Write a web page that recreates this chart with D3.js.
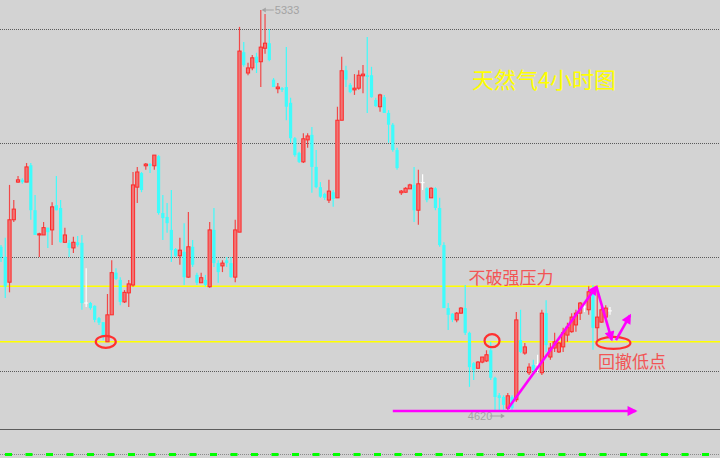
<!DOCTYPE html>
<html>
<head>
<meta charset="utf-8">
<script src="https://cdn.jsdelivr.net/npm/d3@7/dist/d3.min.js"></script>
<style>
  html, body { margin: 0; padding: 0; background: #d3d3d3; }
  svg { display: block; }
</style>
</head>
<body>
<div id="chart"></div>
<script>
// 4h candles, left to right
const opens = [
  4912,4894,4849,4960,5027,5031,5027,5057,4977,4933,
  4933,4946,4942,4986,4981,4920,4919,4910,4920,4919,
  4812,4812,4807,4785,4778,4743,4791,4866,4853,4814,
  4830,4844,5018,5043,5056,5059,5056,5073,4972,4965,
  4942,4908,4896,4903,4858,4912,4862,4848,4853,4841,
  4942,4883,4878,4888,4883,4858,4938,5258,5221,5230,
  5250,5241,5265,5274,5209,5193,5194,5196,5168,5105,
  5079,5063,5102,5111,5054,5018,5006,4995,5009,4999,
  5137,5226,5200,5191,5194,5216,5217,5217,5173,5161,
  5178,5150,5129,5084,5008,5009,5015,5022,4977,5026,
  5016,4999,5016,4981,4915,4803,4793,4782,4794,4803,
  4759,4705,4696,4707,4709,4728,4679,4648,4645,4625,
  4645,4640,4746,4723,4688,4702,4702,4688,4794,4716,
  4732,4725,4734,4755,4761,4773,4794,4805,4800,4835,
  4768,4778,4787,4798
];
const highs = [
  4915,4928,5022,4995,5038,5034,5061,5061,5004,4937,
  4956,4946,4991,5038,4995,4946,4924,4930,4931,4933,
  4874,4814,4808,4787,4778,4828,4888,4874,4858,4835,
  4853,5045,5054,5045,5061,5061,5075,5075,5004,4990,
  5013,4910,4928,4954,4974,4924,4866,4866,4862,4956,
  4981,4888,4888,4894,4894,4960,5303,5276,5239,5253,
  5257,5333,5326,5299,5212,5203,5196,5267,5177,5107,
  5081,5114,5114,5125,5084,5027,5008,5031,5013,5161,
  5250,5234,5203,5219,5226,5235,5285,5232,5177,5184,
  5182,5155,5132,5088,5013,5018,5024,5054,5049,5041,
  5018,5018,5018,4999,4920,4812,4794,4796,4805,4844,
  4761,4707,4709,4716,4728,4743,4681,4652,4648,4652,
  4648,4796,4800,4741,4705,4711,4720,4800,4817,4741,
  4759,4743,4768,4777,4794,4800,4814,4812,4842,4844,
  4841,4805,4808,4805
];
const lows = [
  4885,4821,4831,4956,5026,5024,5027,4960,4933,4894,
  4933,4910,4915,4977,4919,4919,4894,4901,4912,4800,
  4805,4800,4778,4773,4746,4743,4791,4853,4808,4812,
  4805,4841,4990,5009,5049,5043,5049,4969,4924,4937,
  4885,4894,4880,4844,4857,4876,4844,4848,4841,4839,
  4876,4848,4867,4876,4857,4849,4938,5232,5217,5226,
  5221,5196,5255,5242,5196,5185,5187,5137,5097,5072,
  5061,5061,5088,5008,5016,4999,4995,4990,4983,4999,
  5137,5196,5185,5182,5191,5185,5150,5177,5161,5152,
  5150,5097,5081,5049,5004,5008,5015,4956,4951,5013,
  4991,4999,4977,4912,4803,4764,4778,4778,4793,4755,
  4663,4675,4695,4705,4707,4675,4622,4622,4622,4620,
  4622,4636,4723,4720,4684,4684,4688,4684,4725,4711,
  4725,4723,4725,4743,4759,4761,4782,4796,4791,4729,
  4746,4777,4782,4791
];
const closes = [
  4894,4841,4960,4979,5031,5027,5054,4977,4933,4935,
  4946,4938,4983,4977,4920,4933,4910,4920,4915,4812,
  4812,4803,4782,4777,4752,4791,4866,4855,4814,4831,
  4846,5022,5045,5013,5059,5056,5075,4972,4963,4954,
  4906,4896,4906,4858,4912,4880,4848,4857,4844,4942,
  4883,4867,4883,4883,4858,4942,5260,5235,5230,5248,
  5239,5267,5274,5244,5196,5196,5191,5161,5105,5075,
  5063,5104,5109,5054,5018,5001,4999,5011,4997,5137,
  5225,5209,5187,5194,5217,5219,5214,5178,5162,5182,
  5150,5129,5084,5052,5011,5016,5022,4977,5024,5026,
  4995,5016,4981,4915,4803,4791,4782,4794,4803,4759,
  4698,4693,4707,4716,4720,4679,4645,4643,4631,4647,
  4625,4782,4725,4734,4698,4693,4702,4794,4737,4732,
  4743,4741,4759,4769,4787,4794,4812,4805,4832,4768,
  4787,4800,4803,4798
];

const gridPrices = [5299, 5096, 4894, 4691];
const levelPrices = [4842, 4743];          // yellow support / resistance
const highLabel = { i: 61, price: 5333, text: '5333' };
const lowLabel = { i: 119, price: 4620, text: '4620' };

// magenta arrows, [startIndex, startPrice, endIndex, endPrice]
const arrows = [
  [92, 4620, 149, 4620],
  [119, 4624, 139.8, 4841],
  [139.8, 4841, 143.4, 4747],
  [144.4, 4746, 147.7, 4790]
];
// red circles, [index, price, rx, ry]
const circles = [
  [24.6, 4743, 10, 6],
  [115.3, 4745, 7.5, 6.5],
  [143.8, 4741, 17, 6]
];

const title = '天然气4小时图';
const notes = [
  { text: '不破强压力', i: 109.8, price: 4846 },
  { text: '回撤低点', i: 140.2, price: 4697 }
];

const w = 720;
const h = 458;

const data = opens.map((o, i) => ({ i: i, o: o, h: highs[i], l: lows[i], c: closes[i] }));

const xScale = d3.scaleLinear().domain([0, opens.length - 1]).range([1, 610]);
const yScale = d3.scaleLinear().domain([4620, 5333]).range([411, 10]);

const svg = d3.select('#chart')
  .append('svg')
  .attr('width', w)
  .attr('height', h);

svg.append('rect')
  .attr('width', w)
  .attr('height', h)
  .attr('fill', '#d3d3d3');

const defs = svg.append('defs');
defs.append('marker')
  .attr('id', 'head')
  .attr('viewBox', '0 0 10 10')
  .attr('refX', 8)
  .attr('refY', 5)
  .attr('markerWidth', 13)
  .attr('markerHeight', 10)
  .attr('markerUnits', 'userSpaceOnUse')
  .attr('orient', 'auto')
  .append('path')
  .attr('d', 'M0,0 L10,5 L0,10 Z')
  .attr('fill', '#ff00ff');

// grid
svg.append('g')
  .selectAll('line')
  .data(gridPrices)
  .enter()
  .append('line')
  .attr('x1', 0)
  .attr('x2', w)
  .attr('y1', d => Math.round(yScale(d)) + 0.5)
  .attr('y2', d => Math.round(yScale(d)) + 0.5)
  .attr('stroke', '#5a5a5a')
  .attr('stroke-dasharray', '1,1');

// yellow levels
svg.append('g')
  .selectAll('line')
  .data(levelPrices)
  .enter()
  .append('line')
  .attr('x1', 0)
  .attr('x2', w)
  .attr('y1', d => yScale(d))
  .attr('y2', d => yScale(d))
  .attr('stroke', '#ffff00')
  .attr('stroke-width', 1.5);

// candles
const colorOf = d => d.c > d.o ? 'up' : (d.c < d.o ? 'down' : 'flat');
const candles = svg.append('g')
  .selectAll('g')
  .data(data)
  .enter()
  .append('g');

candles.append('line')
  .attr('x1', d => xScale(d.i))
  .attr('x2', d => xScale(d.i))
  .attr('y1', d => yScale(d.h))
  .attr('y2', d => yScale(d.l))
  .attr('stroke', d => ({ up: '#f24848', down: '#3ffcfc', flat: '#ffffff' })[colorOf(d)])
  .attr('stroke-width', 1.2);

candles.filter(d => colorOf(d) === 'up')
  .append('rect')
  .attr('x', d => xScale(d.i) - 1.6)
  .attr('y', d => yScale(d.c))
  .attr('width', 3.2)
  .attr('height', d => Math.max(1, yScale(d.o) - yScale(d.c)))
  .attr('fill', '#f07474')
  .attr('stroke', '#ff2a2a')
  .attr('stroke-width', 1);

candles.filter(d => colorOf(d) === 'down')
  .append('rect')
  .attr('x', d => xScale(d.i) - 1.6)
  .attr('y', d => yScale(d.o))
  .attr('width', 3.2)
  .attr('height', d => Math.max(1.2, yScale(d.c) - yScale(d.o)))
  .attr('fill', '#3ffcfc');

candles.filter(d => colorOf(d) === 'flat')
  .append('line')
  .attr('x1', d => xScale(d.i) - 2)
  .attr('x2', d => xScale(d.i) + 2)
  .attr('y1', d => yScale(d.o))
  .attr('y2', d => yScale(d.o))
  .attr('stroke', '#ffffff')
  .attr('stroke-width', 1);

// high / low labels
const hx = xScale(highLabel.i), hy = yScale(highLabel.price);
svg.append('line')
  .attr('x1', hx + 2).attr('x2', hx + 13)
  .attr('y1', hy).attr('y2', hy)
  .attr('stroke', '#a3a3a3');
svg.append('path')
  .attr('d', `M${hx + 1},${hy} l4,-2.5 l0,5 Z`)
  .attr('fill', '#a3a3a3');
svg.append('text')
  .attr('x', hx + 14)
  .attr('y', hy + 4)
  .attr('font-family', 'Arial, "Liberation Sans", sans-serif')
  .attr('font-size', 11)
  .attr('fill', '#a3a3a3')
  .text(highLabel.text);

const lx = xScale(lowLabel.i), ly = yScale(lowLabel.price);
svg.append('text')
  .attr('x', lx - 40)
  .attr('y', ly + 9)
  .attr('font-family', 'Arial, "Liberation Sans", sans-serif')
  .attr('font-size', 11)
  .attr('fill', '#a3a3a3')
  .text(lowLabel.text);
svg.append('line')
  .attr('x1', lx - 18).attr('x2', lx - 5)
  .attr('y1', ly + 5).attr('y2', ly + 5)
  .attr('stroke', '#a3a3a3');
svg.append('path')
  .attr('d', `M${lx - 3},${ly + 5} l-4,-2.5 l0,5 Z`)
  .attr('fill', '#a3a3a3');

// red circles
svg.append('g')
  .selectAll('ellipse')
  .data(circles)
  .enter()
  .append('ellipse')
  .attr('cx', d => xScale(d[0]))
  .attr('cy', d => yScale(d[1]))
  .attr('rx', d => d[2])
  .attr('ry', d => d[3])
  .attr('fill', 'none')
  .attr('stroke', '#ff3030')
  .attr('stroke-width', 2.2);

// magenta arrows
svg.append('g')
  .selectAll('line')
  .data(arrows)
  .enter()
  .append('line')
  .attr('x1', d => xScale(d[0]))
  .attr('y1', d => yScale(d[1]))
  .attr('x2', d => xScale(d[2]))
  .attr('y2', d => yScale(d[3]))
  .attr('stroke', '#ff00ff')
  .attr('stroke-width', 2.6)
  .attr('marker-end', 'url(#head)');

// texts
svg.append('text')
  .attr('x', 544)
  .attr('y', 88)
  .attr('text-anchor', 'middle')
  .attr('font-family', '"Noto Sans CJK SC", sans-serif')
  .attr('font-size', 22)
  .attr('fill', '#ffff00')
  .text(title);

svg.append('g')
  .selectAll('text')
  .data(notes)
  .enter()
  .append('text')
  .attr('x', d => xScale(d.i))
  .attr('y', d => yScale(d.price))
  .attr('font-family', '"Noto Sans CJK SC", sans-serif')
  .attr('font-size', 17)
  .attr('fill', '#f25555')
  .text(d => d.text);

// lower window
svg.append('line')
  .attr('x1', 0).attr('x2', w)
  .attr('y1', 429.5).attr('y2', 429.5)
  .attr('stroke', '#5c5c5c');
svg.append('line')
  .attr('x1', 0).attr('x2', w)
  .attr('y1', 454.5).attr('y2', 454.5)
  .attr('stroke', '#8a8a8a')
  .attr('stroke-dasharray', '1,1');
svg.append('line')
  .attr('x1', 5).attr('x2', w)
  .attr('y1', 454.5).attr('y2', 454.5)
  .attr('stroke', '#00ff00')
  .attr('stroke-width', 3)
  .attr('stroke-dasharray', '7,13.5');
</script>
</body>
</html>
